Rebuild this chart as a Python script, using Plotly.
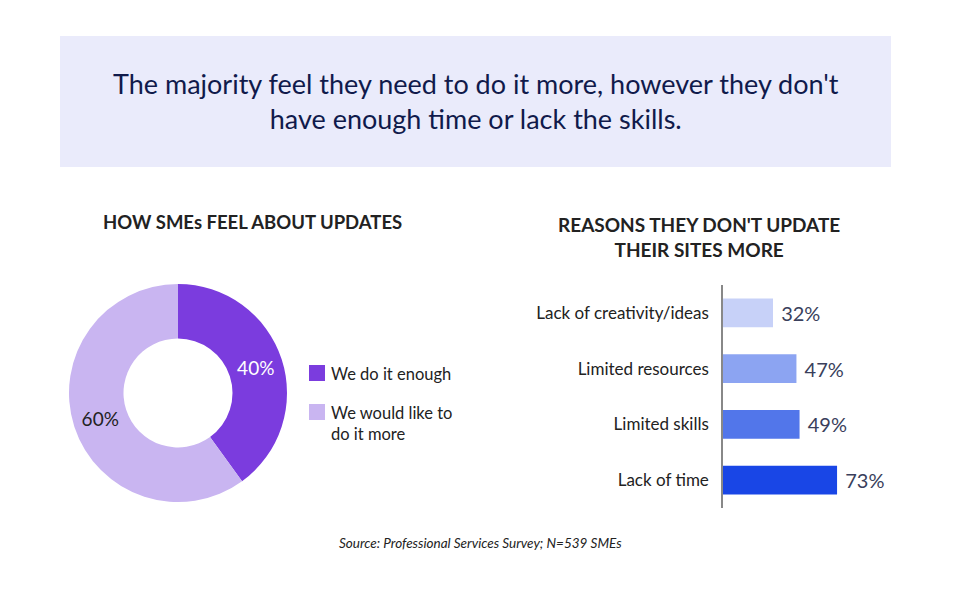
import plotly.graph_objects as go

# donut data
pie_labels = ['We do it enough', 'We would like to<br>do it more']
pie_values = [40, 60]
pie_colors = ['#7B3CDE', '#C9B5F1']

# bar data
reasons = ['Lack of creativity/ideas', 'Limited resources', 'Limited skills', 'Lack of time']
reason_pct = [32, 47, 49, 73]
bar_colors = ['#C7D1F8', '#8CA4F2', '#5276EA', '#1946E6']

W, H = 954, 612
FONT = 'Lato'


def px(x):
    return x / W


def py(y):
    return 1 - y / H


fig = go.Figure()

fig.add_trace(go.Pie(
    labels=pie_labels, values=pie_values,
    marker=dict(colors=pie_colors, line=dict(width=0)),
    hole=0.5, sort=False, direction='clockwise', rotation=0,
    texttemplate='%{value}%', textposition='inside',
    insidetextfont=dict(color=['#FFFFFF', '#222222'], size=19, family=FONT),
    showlegend=False,
    domain=dict(x=[px(68), px(288)], y=[py(502), py(284)]),
))

fig.add_trace(go.Bar(
    x=reason_pct, y=reasons, orientation='h',
    marker=dict(color=bar_colors, line=dict(width=0)),
    width=0.52,
    texttemplate=' %{x}%', textposition='outside',
    textfont=dict(size=20, color='#3A3F5C', family=FONT),
    cliponaxis=False, showlegend=False,
))

# pie legend, drawn by hand
legend_y = [373, 412]
for lab, col, ly in zip(pie_labels, pie_colors, legend_y):
    fig.add_shape(type='rect', xref='paper', yref='paper',
                  x0=px(309), x1=px(325), y0=py(ly + 8), y1=py(ly - 8),
                  fillcolor=col, line=dict(width=0))
    fig.add_annotation(xref='paper', yref='paper', x=px(329), y=py(ly - 11),
                       text=lab, showarrow=False, xanchor='left', yanchor='top',
                       align='left', font=dict(size=16.5, color='#222222', family=FONT))

# header banner
fig.add_shape(type='rect', xref='paper', yref='paper',
              x0=px(60), x1=px(891), y0=py(167), y1=py(36),
              fillcolor='#EAEBFB', line=dict(width=0), layer='below')
fig.add_annotation(xref='paper', yref='paper', x=px(476), y=py(101),
                   text="The majority feel they need to do it more, however they don't<br>have enough time or lack the skills.",
                   showarrow=False, xanchor='center', yanchor='middle',
                   font=dict(size=27, color='#101A4B', family=FONT))

fig.add_annotation(xref='paper', yref='paper', x=px(252), y=py(222),
                   text='<b>HOW SMEs FEEL ABOUT UPDATES</b>', showarrow=False,
                   xanchor='center', yanchor='middle',
                   font=dict(size=18.5, color='#222222', family=FONT))
fig.add_annotation(xref='paper', yref='paper', x=px(699), y=py(237),
                   text="<b>REASONS THEY DON'T UPDATE<br>THEIR SITES MORE</b>", showarrow=False,
                   xanchor='center', yanchor='middle',
                   font=dict(size=19, color='#222222', family=FONT))
fig.add_annotation(xref='paper', yref='paper', x=px(480), y=py(543),
                   text='<i>Source: Professional Services Survey; N=539 SMEs</i>', showarrow=False,
                   xanchor='center', yanchor='middle',
                   font=dict(size=13.5, color='#222222', family=FONT))

fig.update_layout(
    width=W, height=H,
    margin=dict(l=0, r=0, t=0, b=0),
    paper_bgcolor='white', plot_bgcolor='white',
    font=dict(family=FONT),
    xaxis=dict(domain=[px(723), px(848)], range=[0, 80], visible=False, fixedrange=True),
    yaxis=dict(domain=[py(508), py(285)], autorange='reversed',
               showline=True, linecolor='#888888', linewidth=1.5,
               showgrid=False, ticks='', ticklabelstandoff=9,
               tickfont=dict(size=17, color='#222222', family=FONT)),
)

# drop the default 8px page margin so the figure sits at the window corner
fig.write_html('out.html', config={'displayModeBar': False},
               post_script="document.body.style.margin='0';")
